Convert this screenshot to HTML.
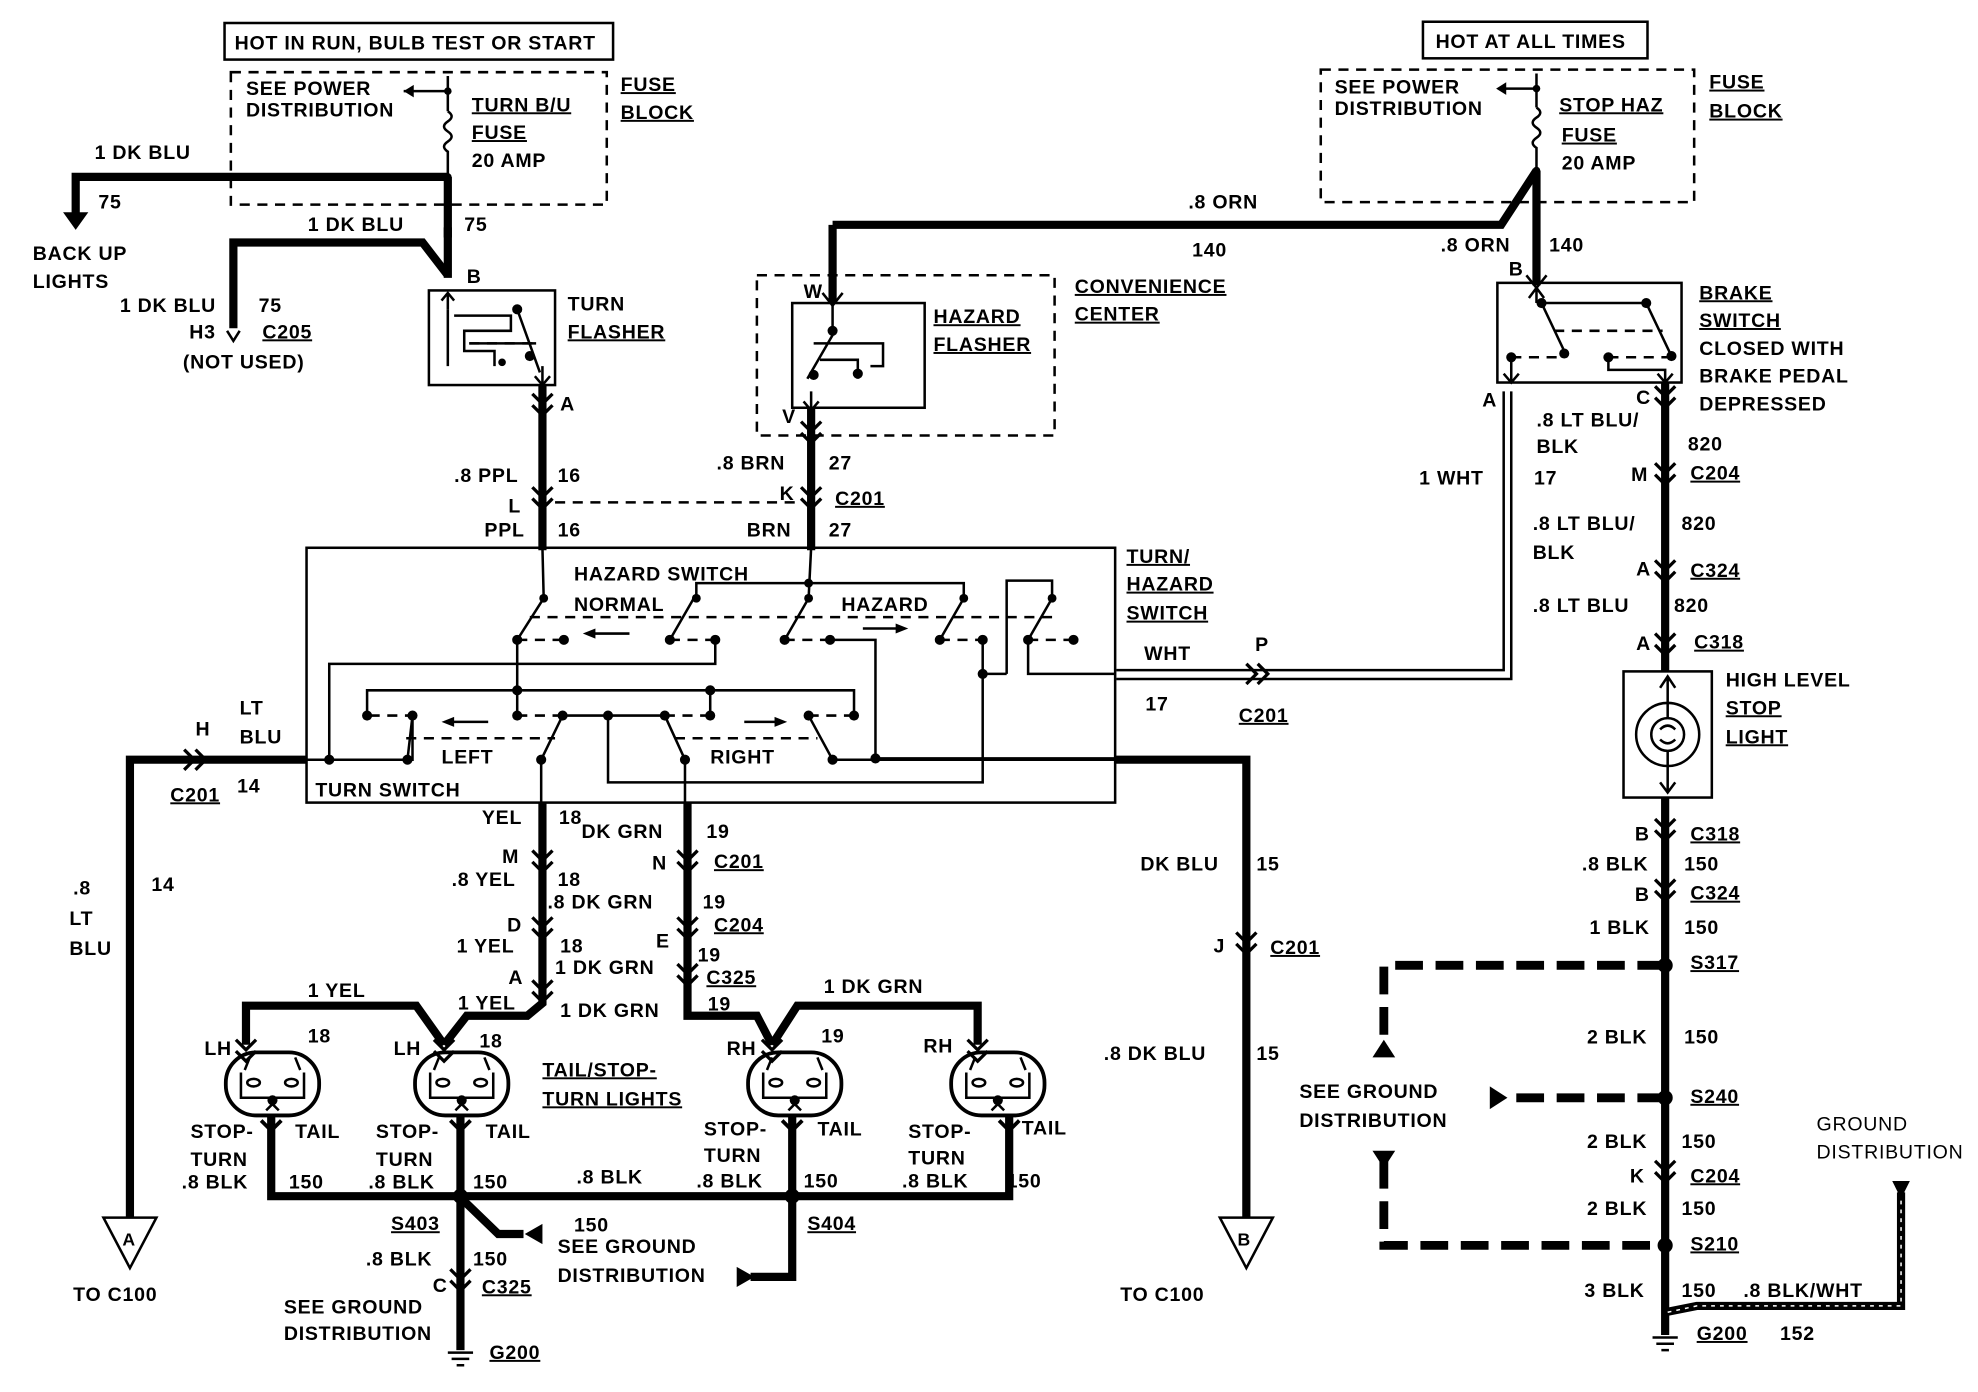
<!DOCTYPE html>
<html><head><meta charset="utf-8"><style>
html,body{margin:0;padding:0;background:#fff}
svg{display:block}
text{font-family:"Liberation Sans",sans-serif;font-weight:bold;font-size:15.5px;fill:#000;letter-spacing:0.6px}
.u{text-decoration:underline}
.w{stroke:#000;stroke-width:6.5;fill:none;stroke-linejoin:miter}
.t{stroke:#000;stroke-width:2;fill:none}
.d{stroke:#000;stroke-width:2;fill:none;stroke-dasharray:8,6}
.gd{stroke:#000;stroke-width:7;fill:none;stroke-dasharray:22,10}
</style></head><body>
<svg width="1978" height="1392" viewBox="0 0 1568 1103" xmlns="http://www.w3.org/2000/svg">
<defs>
<g id="cv"><path d="M-8,-6 L0,2 L8,-6 M-8,3 L0,11 L8,3" stroke="#000" stroke-width="2.6" fill="none"/></g>
<g id="ch"><path d="M-6,-8 L2,0 L-6,8 M3,-8 L11,0 L3,8" stroke="#000" stroke-width="2.6" fill="none"/></g>
<g id="lamp"><rect x="-37" y="-24" width="74" height="50" rx="24" stroke="#000" stroke-width="3" fill="#fff"/><path d="M-25,-8 L-25,12 L25,12 L25,-8" stroke="#000" stroke-width="2" fill="none"/><ellipse cx="-15" cy="0" rx="5" ry="3" fill="none" stroke="#000" stroke-width="2"/><ellipse cx="15" cy="0" rx="5" ry="3" fill="none" stroke="#000" stroke-width="2"/><circle cx="0" cy="14" r="4"/><path d="M-18,-20 L-22,-10 M18,-20 L22,-10 M-5,22 L0,17 L5,22" stroke="#000" stroke-width="2" fill="none"/></g>
</defs>

<!-- TOP LEFT FUSE -->
<rect x="178" y="18" width="308" height="29" class="t"/>
<text x="186" y="39">HOT IN RUN, BULB TEST OR START</text>
<rect x="183" y="57" width="298" height="105" class="d"/>
<text x="195" y="75">SEE POWER</text><text x="195" y="92">DISTRIBUTION</text>
<path d="M355,60 L355,88 M355,72 L320,72" class="t"/><path d="M320,72 L328,67 L328,77Z"/>
<circle cx="355" cy="72" r="3"/>
<path d="M355,88 q6,4 0,8 q-6,4 0,8 q6,4 0,8 q-6,4 0,8 L355,140" class="t"/>
<text x="374" y="88" class="u">TURN B/U</text><text x="374" y="110" class="u">FUSE</text><text x="374" y="132">20 AMP</text>
<text x="492" y="72" class="u">FUSE</text><text x="492" y="94" class="u">BLOCK</text>
<path d="M355,140 L355,220 M355,140 L60,140 L60,170" class="w"/>
<path d="M50,168 L70,168 L60,182Z"/>
<circle cx="355" cy="140" r="3"/>
<text x="75" y="126">1 DK BLU</text><text x="78" y="165">75</text>
<text x="26" y="206">BACK UP</text><text x="26" y="228">LIGHTS</text>
<path d="M355,180 L355,188 M185,260 L185,192 L335,192 L355,218" class="w"/>
<path d="M180,262 L185,270 L190,262" class="t"/>
<text x="244" y="183">1 DK BLU</text><text x="368" y="183">75</text>
<text x="95" y="247">1 DK BLU</text><text x="205" y="247">75</text>
<text x="150" y="268">H3</text><text x="208" y="268" class="u">C205</text>
<text x="145" y="292">(NOT USED)</text>
<text x="370" y="224">B</text>
<!-- turn flasher -->
<rect x="340" y="230" width="100" height="75" class="t" stroke-width="3"/>
<path d="M355,232 L355,245 M350,238 L355,232 L360,238" class="t"/>
<path d="M355,245 L355,290 M360,250 L405,250 L405,262 L368,262 L368,278 L392,278 L392,290" class="t"/>
<path d="M410,245 L428,295 M372,272 L425,272" class="t"/><path d="M372,272 L425,272" class="d"/>
<circle cx="410" cy="245" r="4"/><circle cx="420" cy="282" r="4"/><circle cx="398" cy="287" r="3"/>
<path d="M430,290 L430,305 M424,298 L430,305 L436,298" class="t"/>
<text x="450" y="246">TURN</text><text x="450" y="268" class="u">FLASHER</text>
<path d="M430,305 L430,436" class="w"/>
<use href="#cv" x="430" y="318"/><use href="#cv" x="430" y="392"/>
<text x="444" y="325">A</text>
<text x="360" y="382">.8 PPL</text><text x="442" y="382">16</text>
<text x="403" y="406">L</text>
<text x="384" y="425">PPL</text><text x="442" y="425">16</text>
<path d="M440,398 L635,398" class="d"/>

<!-- HAZARD FLASHER -->
<rect x="600" y="218" width="236" height="127" class="d" stroke-width="2.5"/>
<rect x="628" y="240" width="105" height="83" class="t" stroke-width="3"/>
<path d="M660,178 L660,240" class="w"/>
<path d="M652,232 L660,242 L668,232" class="t"/>
<path d="M660,242 L660,262 M662,262 L640,300 M645,272 L700,272 L700,290 L690,290 M650,285 L680,285 L680,300 M643,310 L643,325 M637,318 L643,325 L649,318" class="t"/>
<circle cx="660" cy="262" r="4"/><circle cx="645" cy="297" r="4"/><circle cx="680" cy="296" r="4"/>
<text x="637" y="236">W</text><text x="620" y="335">V</text>
<text x="740" y="256" class="u">HAZARD</text><text x="740" y="278" class="u">FLASHER</text>
<text x="852" y="232" class="u">CONVENIENCE</text><text x="852" y="254" class="u">CENTER</text>
<path d="M643,323 L643,436" class="w"/>
<use href="#cv" x="643" y="340"/><use href="#cv" x="643" y="392"/>
<text x="568" y="372">.8 BRN</text><text x="657" y="372">27</text>
<text x="618" y="396">K</text><text x="662" y="400" class="u">C201</text>
<text x="592" y="425">BRN</text><text x="657" y="425">27</text>

<!-- ORN wire -->
<path d="M660,178 L1190,178 L1218,135" class="w"/>
<text x="942" y="165">.8 ORN</text><text x="945" y="203">140</text>

<!-- TOP RIGHT FUSE -->
<rect x="1128" y="17" width="178" height="29" class="t"/>
<text x="1138" y="38">HOT AT ALL TIMES</text>
<rect x="1047" y="55" width="296" height="105" class="d"/>
<text x="1058" y="74">SEE POWER</text><text x="1058" y="91">DISTRIBUTION</text>
<path d="M1218,58 L1218,85 M1218,70 L1188,70" class="t"/><path d="M1186,70 L1194,65 L1194,75Z"/>
<circle cx="1218" cy="70" r="3"/>
<path d="M1218,85 q6,4 0,8 q-6,4 0,8 q6,4 0,8 q-6,4 0,8 L1218,135" class="t"/>
<circle cx="1218" cy="135" r="3"/>
<text x="1236" y="88" class="u">STOP HAZ</text><text x="1238" y="112" class="u">FUSE</text><text x="1238" y="134">20 AMP</text>
<text x="1355" y="70" class="u">FUSE</text><text x="1355" y="93" class="u">BLOCK</text>
<path d="M1218,135 L1218,226" class="w"/>
<path d="M1210,218 L1218,228 L1226,218" class="t"/>
<text x="1142" y="199">.8 ORN</text><text x="1228" y="199">140</text>
<text x="1196" y="218">B</text>
<!-- brake switch -->
<rect x="1187" y="224" width="146" height="79" class="t" stroke-width="3"/>
<path d="M1218,228 L1218,240 M1212,236 L1218,228 L1224,236 M1222,240 L1305,240 L1325,282 M1222,240 L1240,278" class="t"/>
<path d="M1232,262 L1318,262" class="d"/>
<path d="M1198,283 L1235,283 M1275,283 L1325,283" class="d"/>
<circle cx="1222" cy="240" r="4"/><circle cx="1305" cy="240" r="4"/><circle cx="1240" cy="280" r="4"/><circle cx="1325" cy="282" r="4"/><circle cx="1198" cy="283" r="4"/><circle cx="1275" cy="283" r="4"/>
<path d="M1198,283 L1198,303 M1192,296 L1198,303 L1204,296 M1275,283 L1275,293 L1320,293 L1320,303 M1314,296 L1320,303 L1326,296" class="t"/>
<text x="1347" y="237" class="u">BRAKE</text><text x="1347" y="259" class="u">SWITCH</text>
<text x="1347" y="281">CLOSED WITH</text><text x="1347" y="303">BRAKE PEDAL</text><text x="1347" y="325">DEPRESSED</text>
<!-- brake to high stop -->
<path d="M1320,303 L1320,532" class="w"/>
<use href="#cv" x="1320" y="312"/><use href="#cv" x="1320" y="373"/><use href="#cv" x="1320" y="450"/><use href="#cv" x="1320" y="508"/>
<text x="1175" y="322">A</text><text x="1297" y="320">C</text>
<text x="1218" y="338">.8 LT BLU/</text><text x="1218" y="359">BLK</text><text x="1338" y="357">820</text>
<text x="1125" y="384">1 WHT</text><text x="1216" y="384">17</text>
<text x="1293" y="381">M</text><text x="1340" y="380" class="u">C204</text>
<text x="1215" y="420">.8 LT BLU/</text><text x="1333" y="420">820</text><text x="1215" y="443">BLK</text>
<text x="1297" y="456">A</text><text x="1340" y="457" class="u">C324</text>
<text x="1215" y="485">.8 LT BLU</text><text x="1327" y="485">820</text>
<text x="1297" y="515">A</text><text x="1343" y="514" class="u">C318</text>
<!-- high level stop light -->
<rect x="1287" y="532" width="70" height="100" class="t" stroke-width="3"/>
<circle cx="1322" cy="582" r="25" class="t" stroke-width="3"/>
<circle cx="1322" cy="582" r="13" class="t"/>
<path d="M1322,536 L1322,569 M1322,595 L1322,628 M1316,545 L1322,536 L1328,545 M1316,620 L1322,628 L1328,620 M1316,578 Q1322,572 1328,578 M1316,586 Q1322,592 1328,586" class="t"/>
<text x="1368" y="544">HIGH LEVEL</text><text x="1368" y="566" class="u">STOP</text><text x="1368" y="589" class="u">LIGHT</text>
<!-- WHT double wire -->
<path d="M1192,310 L1192,531 L885,531 M1198,310 L1198,538 L885,538" class="t"/>
<use href="#ch" x="994" y="534"/>
<text x="907" y="523">WHT</text><text x="995" y="516">P</text>
<text x="908" y="563">17</text><text x="982" y="572" class="u">C201</text>

<!-- TURN/HAZARD SWITCH BOX -->
<rect x="243" y="434" width="641" height="202" class="t" stroke-width="2.5"/>
<text x="893" y="446" class="u">TURN/</text><text x="893" y="468" class="u">HAZARD</text><text x="893" y="491" class="u">SWITCH</text>
<text x="455" y="460">HAZARD SWITCH</text><text x="455" y="484">NORMAL</text><text x="667" y="484">HAZARD</text>
<text x="350" y="605">LEFT</text><text x="563" y="605">RIGHT</text><text x="250" y="631">TURN SWITCH</text>
<g class="t">
<path d="M430,434 L431,474 L410,507 M643,434 L641,474 L622,507 M552,474 L552,462 L764,462 L764,474 M550,474 L531,507 M764,474 L745,507"/>
<path d="M798,534 L798,460 L834,460 L834,474 L815,507"/>
<path d="M410,507 L410,546 M567,507 L567,526 L261,526 L261,602 M658,507 L694,507 L694,601 L884,601"/>
<path d="M779,507 L779,620 L482,620 L482,567 M779,534 L798,534 M815,507 L815,534 L884,534"/>
<path d="M291,567 L291,547 L677,547 L677,567 M410,547 L410,567 M563,547 L563,567"/>
<path d="M243,602 L327,602 L327,567 M327,567 L323,567 M429,636 L429,602 L446,567 M446,567 L527,567 L543,602 L543,636 M641,567 L660,602 L884,602"/>
<path d="M323,602 L327,567"/>
</g>
<path d="M420,489 L836,489 M293,567 L325,567 M410,567 L446,567 M527,567 L563,567 M641,567 L677,567 M410,507 L447,507 M531,507 L567,507 M622,507 L658,507 M745,507 L779,507 M815,507 L851,507 M322,585 L440,585 M535,585 L648,585" class="d"/>
<g>
<circle cx="431" cy="474" r="3.5"/><circle cx="410" cy="507" r="4"/><circle cx="447" cy="507" r="4"/>
<circle cx="552" cy="474" r="3.5"/><circle cx="531" cy="507" r="4"/><circle cx="567" cy="507" r="4"/>
<circle cx="641" cy="462" r="3.5"/><circle cx="641" cy="474" r="3.5"/><circle cx="622" cy="507" r="4"/><circle cx="658" cy="507" r="4"/>
<circle cx="764" cy="474" r="3.5"/><circle cx="745" cy="507" r="4"/><circle cx="779" cy="507" r="4"/>
<circle cx="834" cy="474" r="3.5"/><circle cx="815" cy="507" r="4"/><circle cx="851" cy="507" r="4"/>
<circle cx="410" cy="547" r="4"/><circle cx="563" cy="547" r="4"/><circle cx="779" cy="534" r="4"/>
<circle cx="291" cy="567" r="4"/><circle cx="327" cy="567" r="4"/><circle cx="410" cy="567" r="4"/><circle cx="446" cy="567" r="4"/><circle cx="482" cy="567" r="4"/><circle cx="527" cy="567" r="4"/><circle cx="563" cy="567" r="4"/><circle cx="641" cy="567" r="4"/><circle cx="677" cy="567" r="4"/>
<circle cx="261" cy="602" r="4"/><circle cx="323" cy="602" r="4"/><circle cx="429" cy="602" r="4"/><circle cx="543" cy="602" r="4"/><circle cx="660" cy="602" r="4"/><circle cx="694" cy="601" r="4"/>
</g>
<path d="M470,502 L499,502 M357,572 L387,572 M684,498 L712,498 M590,572 L616,572" class="t"/>
<path d="M462,502 L472,498 L472,506Z M350,572 L360,568 L360,576Z M720,498 L710,494 L710,502Z M624,572 L614,568 L614,576Z"/>

<!-- left output -->
<path d="M243,602 L103,602 L103,965" class="w"/>
<use href="#ch" x="152" y="602"/>
<text x="190" y="566">LT</text><text x="190" y="589">BLU</text><text x="155" y="583">H</text>
<text x="135" y="635" class="u">C201</text><text x="188" y="628">14</text>
<text x="58" y="709">.8</text><text x="120" y="706">14</text><text x="55" y="733">LT</text><text x="55" y="757">BLU</text>
<path d="M82,965 L124,965 L103,1005Z" class="t" stroke-width="3"/>
<text x="97" y="987" style="font-size:14px">A</text>
<text x="58" y="1031">TO C100</text>
<!-- right output -->
<path d="M884,602 L988,602 L988,965" class="w"/>
<use href="#cv" x="988" y="745"/>
<text x="904" y="690">DK BLU</text><text x="996" y="690">15</text>
<text x="962" y="755">J</text><text x="1007" y="756" class="u">C201</text>
<text x="875" y="840">.8 DK BLU</text><text x="996" y="840">15</text>
<path d="M967,965 L1009,965 L988,1005Z" class="t" stroke-width="3"/>
<text x="981" y="987" style="font-size:14px">B</text>
<text x="888" y="1031">TO C100</text>

<!-- YEL / DK GRN -->
<path d="M430,636 L430,795 L418,805 L370,805 L352,828 M195,828 L195,797 L330,797 L352,828" class="w"/>
<path d="M545,636 L545,805 L600,805 L612,828 M612,828 L632,797 L775,797 L775,828" class="w"/>
<use href="#cv" x="430" y="680"/><use href="#cv" x="430" y="733"/><use href="#cv" x="430" y="783"/>
<use href="#cv" x="545" y="680"/><use href="#cv" x="545" y="733"/><use href="#cv" x="545" y="770"/>
<text x="382" y="653">YEL</text><text x="443" y="653">18</text><text x="461" y="664">DK GRN</text><text x="560" y="664">19</text>
<text x="398" y="684">M</text><text x="517" y="689">N</text><text x="566" y="688" class="u">C201</text>
<text x="358" y="702">.8 YEL</text><text x="442" y="702">18</text><text x="434" y="720">.8 DK GRN</text><text x="557" y="720">19</text>
<text x="402" y="738">D</text><text x="520" y="751">E</text><text x="566" y="738" class="u">C204</text>
<text x="362" y="755">1 YEL</text><text x="444" y="755">18</text><text x="553" y="762">19</text>
<text x="440" y="772">1 DK GRN</text><text x="560" y="780" class="u">C325</text><text x="403" y="780">A</text>
<text x="244" y="790">1 YEL</text><text x="363" y="800">1 YEL</text><text x="444" y="806">1 DK GRN</text><text x="561" y="801">19</text>
<text x="653" y="787">1 DK GRN</text>
<text x="162" y="836">LH</text><text x="244" y="826">18</text><text x="312" y="836">LH</text><text x="380" y="830">18</text>
<text x="576" y="836">RH</text><text x="651" y="826">19</text><text x="732" y="834">RH</text>
<text x="430" y="853" class="u">TAIL/STOP-</text><text x="430" y="876" class="u">TURN LIGHTS</text>
<!-- lamps -->
<use href="#lamp" x="216" y="858"/><use href="#lamp" x="366" y="858"/><use href="#lamp" x="630" y="858"/><use href="#lamp" x="791" y="858"/>
<use href="#cv" x="195" y="830"/><use href="#cv" x="352" y="830"/><use href="#cv" x="612" y="830"/><use href="#cv" x="775" y="830"/>
<path d="M215,884 L215,948 L800,948 L800,884 M365,884 L365,1070 M628,884 L628,1012 L595,1012" class="w"/>
<path d="M368,952 L395,978 L415,978" class="w"/>
<path d="M430,970 L416,978 L430,986Z M584,1004 L598,1012 L584,1020Z"/>
<path d="M207,888 L215,896 L223,888 M357,888 L365,896 L373,888 M620,888 L628,896 L636,888 M792,888 L800,896 L808,888" stroke="#000" stroke-width="3" fill="none"/>
<circle cx="365" cy="948" r="6"/><circle cx="628" cy="948" r="6"/>
<use href="#cv" x="365" y="1012"/>
<path d="M355,1072 L375,1072 M358,1077 L372,1077 M362,1082 L368,1082" class="t"/>
<text x="151" y="902">STOP-</text><text x="234" y="902">TAIL</text><text x="151" y="924">TURN</text><text x="144" y="942">.8 BLK</text><text x="229" y="942">150</text>
<text x="298" y="902">STOP-</text><text x="385" y="902">TAIL</text><text x="298" y="924">TURN</text><text x="292" y="942">.8 BLK</text><text x="375" y="942">150</text>
<text x="558" y="900">STOP-</text><text x="648" y="900">TAIL</text><text x="558" y="921">TURN</text><text x="552" y="941">.8 BLK</text><text x="637" y="941">150</text>
<text x="720" y="902">STOP-</text><text x="810" y="899">TAIL</text><text x="720" y="923">TURN</text><text x="715" y="941">.8 BLK</text><text x="798" y="941">150</text>
<text x="457" y="938">.8 BLK</text>
<text x="310" y="975" class="u">S403</text><text x="455" y="976">150</text>
<text x="442" y="993">SEE GROUND</text><text x="442" y="1016">DISTRIBUTION</text>
<text x="640" y="975" class="u">S404</text>
<text x="290" y="1003">.8 BLK</text><text x="375" y="1003">150</text>
<text x="343" y="1024">C</text><text x="382" y="1025" class="u">C325</text>
<text x="225" y="1041">SEE GROUND</text><text x="225" y="1062">DISTRIBUTION</text>
<text x="388" y="1077" class="u">G200</text>

<!-- right lower -->
<path d="M1320,632 L1320,1058" class="w"/>
<use href="#cv" x="1320" y="655"/><use href="#cv" x="1320" y="703"/><use href="#cv" x="1320" y="926"/>
<circle cx="1320" cy="765" r="6"/><circle cx="1320" cy="870" r="6"/><circle cx="1320" cy="987" r="6"/>
<path d="M1320,765 L1097,765 L1097,830 M1320,870 L1195,870 M1097,920 L1097,987 L1320,987" class="gd"/>
<path d="M1088,838 L1097,824 L1106,838Z M1181,861 L1195,870 L1181,879Z M1088,912 L1106,912 L1097,926Z"/>
<path d="M1320,1040 L1345,1035 L1507,1035 L1507,945" class="w" stroke-width="4.5"/>
<path d="M1322,1040 L1345,1035 L1507,1035 L1507,945" stroke="#fff" stroke-width="1.2" fill="none" stroke-dasharray="3,4"/>
<path d="M1500,936 L1514,936 L1507,950Z"/>
<path d="M1310,1060 L1330,1060 M1313,1065 L1327,1065 M1317,1070 L1323,1070" class="t"/>
<text x="1296" y="666">B</text><text x="1340" y="666" class="u">C318</text>
<text x="1254" y="690">.8 BLK</text><text x="1335" y="690">150</text>
<text x="1296" y="714">B</text><text x="1340" y="713" class="u">C324</text>
<text x="1260" y="740">1 BLK</text><text x="1335" y="740">150</text>
<text x="1340" y="768" class="u">S317</text>
<text x="1258" y="827">2 BLK</text><text x="1335" y="827">150</text>
<text x="1030" y="870">SEE GROUND</text><text x="1030" y="893">DISTRIBUTION</text>
<text x="1340" y="874" class="u">S240</text>
<text x="1258" y="910">2 BLK</text><text x="1333" y="910">150</text>
<text x="1292" y="937">K</text><text x="1340" y="937" class="u">C204</text>
<text x="1258" y="963">2 BLK</text><text x="1333" y="963">150</text>
<text x="1340" y="991" class="u">S210</text>
<text x="1256" y="1028">3 BLK</text><text x="1333" y="1028">150</text><text x="1382" y="1028">.8 BLK/WHT</text>
<text x="1345" y="1062" class="u">G200</text><text x="1411" y="1062">152</text>
<text x="1440" y="896" style="font-weight:normal">GROUND</text><text x="1440" y="918" style="font-weight:normal">DISTRIBUTION</text>
</svg>
</body></html>
